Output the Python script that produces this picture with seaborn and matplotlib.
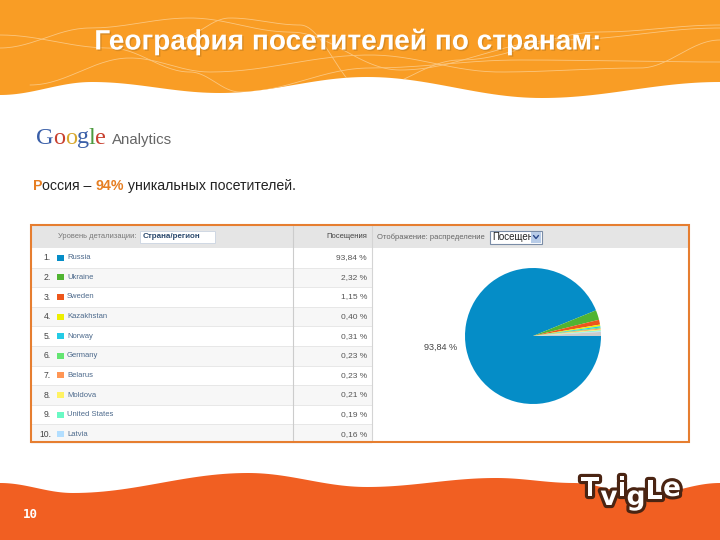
import numpy as np
import matplotlib.pyplot as plt
import matplotlib.patheffects as pe
from matplotlib.patches import Rectangle
import seaborn as sns

sns.set_theme(style="white")
plt.rcParams["font.family"] = ["Liberation Sans", "DejaVu Sans"]

countries = ["Russia", "Ukraine", "Sweden", "Kazakhstan", "Norway",
             "Germany", "Belarus", "Moldova", "United States", "Latvia"]
shares = [93.84, 2.32, 1.15, 0.40, 0.31, 0.23, 0.23, 0.21, 0.19, 0.16]
other_share = 0.96
slice_colors = ["#058DC7", "#50B432", "#ED561B", "#EDEF00", "#24CBE5",
                "#64E572", "#FF9655", "#FFF263", "#6AF9C4", "#B2DEFF", "#CCCCCC"]

title = "География посетителей по странам:"
metric_header = "Посещения"
detail_header = "Уровень детализации:"
detail_value = "Страна/регион"
view_header = "Отображение: распределение"
view_value = "Посещен"
pie_label = "93,84 %"
page_number = "10"

ORANGE = "#F99D25"
DARK_ORANGE = "#F15F22"
FRAME = "#E67E30"


def wave(xs, ys):
    # cosine easing between the crest and trough points of the slide waves
    out_x, out_y = [], []
    for i in range(len(xs) - 1):
        t = np.linspace(0, 1, 30)
        out_x.extend(xs[i] + (xs[i + 1] - xs[i]) * t)
        out_y.extend(ys[i] + (ys[i + 1] - ys[i]) * (1 - np.cos(np.pi * t)) / 2)
    return np.array(out_x), np.array(out_y)


fig = plt.figure(figsize=(7.2, 5.4), dpi=100, facecolor="white")
bg = fig.add_axes([0, 0, 1, 1])
bg.set_xlim(0, 720)
bg.set_ylim(540, 0)
bg.axis("off")

# header band with its thin scribbles
hx, hy = wave([0, 92, 220, 367, 542, 720], [95, 82, 93, 77, 98, 82])
band = bg.fill_between(hx, 0, hy, color=ORANGE, lw=0, zorder=1)
scribbles = [
    ([0, 90, 190, 290, 400, 560, 720], [48, 28, 18, 32, 70, 40, 28]),
    ([0, 110, 190, 240, 370, 520, 720], [35, 48, 72, 92, 68, 60, 62]),
    ([30, 130, 210, 370, 500, 640, 720], [85, 58, 72, 55, 72, 68, 40]),
    ([175, 230, 300, 365, 460, 600, 720], [40, 18, 25, 90, 60, 32, 25]),
]
for sx, sy in scribbles:
    lx, ly = wave(sx, sy)
    line, = bg.plot(lx, ly, color="#FBC67E", lw=0.6, zorder=2)
    line.set_clip_path(band.get_paths()[0], bg.transData)

t = bg.text(348, 42, title, color="white", fontsize=20.2, fontweight="bold",
            ha="center", va="center", zorder=3)
t.set_path_effects([pe.withSimplePatchShadow(offset=(1, -1), shadow_rgbFace="#B87820", alpha=0.5)])

# footer band
fx, fy = wave([0, 73, 248, 367, 496, 574, 643, 720], [483, 493, 473, 487, 478, 483, 495, 483])
bg.fill_between(fx, fy, 540, color=DARK_ORANGE, lw=0, zorder=1)
bg.text(30, 515, page_number, color="white", fontsize=9, fontweight="bold",
        family="DejaVu Sans Mono", ha="center", va="center", zorder=3)

# Tvigle logo, letters set one by one so they can jump up and down
logo_letters = [("T", 590, 489), ("v", 609, 498), ("i", 622, 489),
                ("g", 636, 498), ("L", 654, 492), ("e", 672, 489)]
for letter, lx, ly in logo_letters:
    m = bg.text(lx, ly, letter, color="white", fontsize=19, fontweight="bold",
                family="DejaVu Sans", ha="center", va="center", zorder=4)
    m.set_path_effects([pe.withStroke(linewidth=4.5, foreground="#4A2412")])

# Google Analytics logo
google_letters = [("G", 36, "#3A5FA8"), ("o", 53, "#C8402F"), ("o", 65, "#D8A82E"),
                  ("g", 77, "#3A5FA8"), ("l", 89, "#4C9A3F"), ("e", 95, "#C8402F")]
for letter, lx, col in google_letters:
    bg.text(lx, 138, letter, color=col, fontsize=17.5, family="Liberation Serif",
            va="center", ha="left", zorder=3)
bg.text(112, 140, "Analytics", color="#666666", fontsize=10.8, va="center", ha="left", zorder=3)

# subtitle made of coloured runs
runs = [("Р", "#E67E22", "bold"), ("оссия – ", "#222222", "normal"),
        ("94%", "#E67E22", "bold"), (" уникальных посетителей.", "#222222", "normal")]
prev = bg.text(33, 186, runs[0][0], color=runs[0][1], fontweight=runs[0][2],
               fontsize=10.2, va="center", ha="left", zorder=3)
for txt, col, weight in runs[1:]:
    prev = bg.annotate(txt, xy=(1, 0), xycoords=prev, xytext=(0, 0), textcoords="offset points",
                       color=col, fontweight=weight, fontsize=10.2, va="bottom", ha="left", zorder=3)

# report table
bg.add_patch(Rectangle((31, 225), 658, 217, fc="white", ec="none", zorder=2))
bg.add_patch(Rectangle((31, 225), 658, 23, fc="#E5E5E5", ec="none", zorder=2))
row_h = 19.6
for i, (name, share) in enumerate(zip(countries, shares)):
    y0 = 248 + i * row_h
    yc = y0 + row_h / 2
    if i % 2 == 1:
        bg.add_patch(Rectangle((31, y0), 341, row_h, fc="#F7F7F7", ec="none", zorder=2))
    if i > 0:
        bg.plot([31, 372], [y0, y0], color="#E4E4E4", lw=0.6, zorder=3)
    bg.text(51, yc, f"{i + 1}.", color="#444444", fontsize=6.2, ha="right", va="center", zorder=4)
    bg.add_patch(Rectangle((57, yc - 3), 7, 6, fc=slice_colors[i], ec="none", zorder=4))
    bg.text(67, yc, name, color="#4D6A8C", fontsize=5.5, ha="left", va="center", zorder=4)
    bg.text(367, yc, f"{share:.2f} %".replace(".", ","), color="#555555", fontsize=6,
            ha="right", va="center", zorder=4)

bg.plot([293, 293], [226, 441], color="#CCCCCC", lw=0.8, zorder=3)
bg.plot([372, 372], [226, 441], color="#D4D4D4", lw=0.8, zorder=3)
bg.text(58, 237, detail_header, color="#777777", fontsize=5.4, ha="left", va="center", zorder=4)
bg.add_patch(Rectangle((140, 231), 75, 12, fc="white", ec="#CFD8E3", lw=0.7, zorder=3))
bg.text(143, 237, detail_value, color="#2C4A6E", fontsize=5.8, fontweight="bold",
        ha="left", va="center", zorder=4)
bg.text(367, 237, metric_header, color="#444444", fontsize=5.5, ha="right", va="center", zorder=4)
bg.text(377, 237, view_header, color="#666666", fontsize=5.5, ha="left", va="center", zorder=4)
bg.add_patch(Rectangle((490, 231), 52, 12.5, fc="white", ec="#7A8CA6", lw=0.8, zorder=3))
bg.text(492, 237.5, view_value, color="#222222", fontsize=7, ha="left", va="center", zorder=4)
bg.add_patch(Rectangle((531, 232), 10, 10.5, fc="#B8CCE8", ec="none", zorder=5))
bg.plot([533.5, 536, 538.5], [235.5, 238.5, 235.5], color="#2C4A8C", lw=1, zorder=6)
bg.add_patch(Rectangle((31, 225), 658, 217, fc="none", ec=FRAME, lw=1.5, zorder=7))
bg.text(441, 347, pie_label, color="#444444", fontsize=6.6, ha="center", va="center", zorder=4)

# distribution pie, clockwise from three o'clock like the report
pie_ax = fig.add_axes([(533 - 68) / 720, 1 - (336 + 68) / 540, 136 / 720, 136 / 540])
pie_ax.pie(shares + [other_share], colors=sns.color_palette(slice_colors),
           startangle=0, counterclock=False, radius=1.0,
           wedgeprops={"linewidth": 0, "edgecolor": "none"})
pie_ax.set_xlim(-1, 1)
pie_ax.set_ylim(-1, 1)

fig.savefig("out.png", dpi=100)
